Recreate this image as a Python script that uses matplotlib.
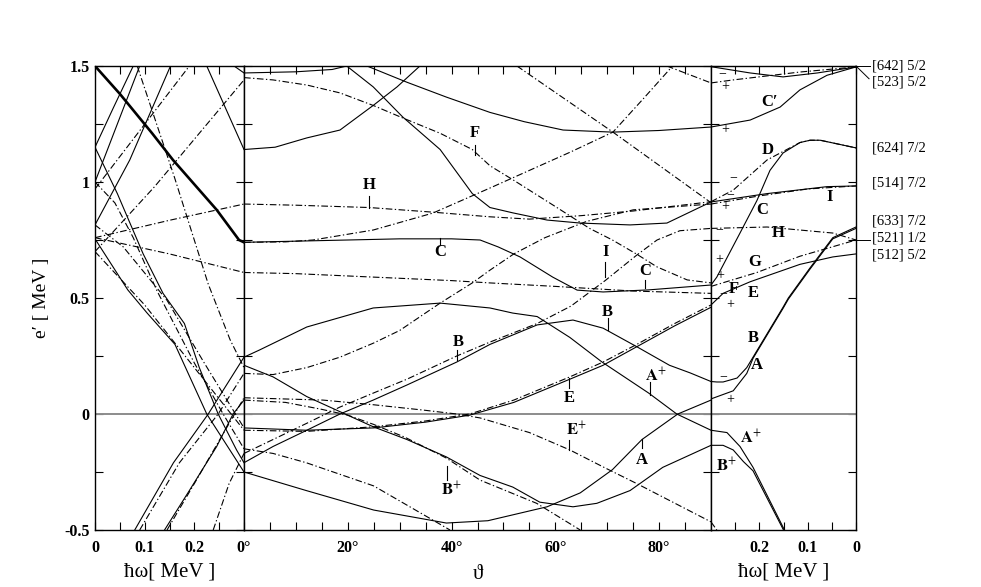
import matplotlib
matplotlib.use("Agg")
import matplotlib.pyplot as plt
import matplotlib.transforms as mtrans

plt.rcParams['font.family'] = ['Liberation Serif', 'DejaVu Serif']
plt.rcParams['mathtext.fontset'] = 'stix'

# ---------------- left panel: theta = 0, hw from 0 to 0.3 MeV ----------------
left_thick = [(0, 1.5), (0.05, 1.38), (0.115, 1.21), (0.157, 1.095), (0.245, 0.88), (0.29, 0.75), (0.3, 0.74)]
left_solid = [
    [(0.225, 1.5), (0.3, 1.14)],
    [(0.28, 1.5), (0.3, 1.47)],
    [(0, 1.15), (0.037, 1.32), (0.077, 1.5)],
    [(0, 1.15), (0.045, 0.95), (0.065, 0.85), (0.097, 0.69), (0.137, 0.52), (0.18, 0.39),
     (0.21, 0.2), (0.248, 0.0), (0.285, -0.155), (0.3, -0.21)],
    [(0, 1.0), (0.09, 1.5)],
    [(0, 0.815), (0.07, 1.095), (0.152, 1.5)],
    [(0, 0.755), (0.066, 0.535), (0.105, 0.435), (0.161, 0.3), (0.225, 0.0), (0.3, -0.25)],
    [(0.08, -0.5), (0.158, -0.21), (0.228, 0.0), (0.3, 0.245)],
    [(0.14, -0.5), (0.19, -0.33), (0.245, -0.14), (0.278, 0.0), (0.3, 0.06)],
]
left_dashdot = [
    [(0, 0.76), (0.15, 0.835), (0.3, 0.905)],
    [(0, 0.76), (0.15, 0.69), (0.3, 0.61)],
    [(0, 0.70), (0.12, 0.98), (0.3, 1.44)],
    [(0.085, 1.5), (0.16, 1.02), (0.228, 0.56), (0.272, 0.32), (0.3, 0.2)],
    [(0.09, -0.5), (0.17, -0.21), (0.248, 0.0), (0.3, 0.175)],
    [(0.145, -0.5), (0.2, -0.3), (0.3, 0.07)],
    [(0.238, -0.5), (0.27, -0.3), (0.3, -0.17)],
    [(0, 1.0), (0.04, 0.91), (0.077, 0.76), (0.125, 0.53), (0.2, 0.22), (0.258, 0.0), (0.3, -0.15)],
    [(0, 0.815), (0.057, 0.72), (0.09, 0.634), (0.145, 0.49), (0.22, 0.22), (0.3, -0.06)],
    [(0, 0.70), (0.1, 0.47), (0.2, 0.2), (0.3, -0.07)],
    [(0, 0.97), (0.19, 1.5)],
]

# ---------------- middle panel: hw = 0.3 MeV, tilt angle 0..90 deg ----------------
mid_solid = [
    [(0, 1.47), (10, 1.475), (17, 1.485), (19.8, 1.5), (24.9, 1.41), (30.6, 1.28), (37.8, 1.14),
     (44, 0.95), (47.4, 0.89), (51.8, 0.867), (58.4, 0.836), (64.8, 0.823), (74.4, 0.815),
     (81.5, 0.823), (90, 0.914)],
    [(23.7, 1.5), (31.4, 1.43), (39, 1.366), (47.4, 1.30), (54, 1.26), (61.5, 1.224), (71, 1.215),
     (80, 1.222), (90, 1.237)],
    [(0, 1.14), (6, 1.15), (12.1, 1.19), (18.5, 1.224), (24.9, 1.33), (29.5, 1.41), (33.9, 1.5)],
    [(0, 0.74), (10, 0.745), (20, 0.75), (30, 0.755), (40, 0.755), (45.5, 0.75), (49, 0.72),
     (53.2, 0.677), (59.5, 0.59), (64.2, 0.534), (69.2, 0.526), (78, 0.535), (90, 0.556)],
    [(0, 0.245), (3, 0.276), (12.1, 0.375), (24.9, 0.457), (37.8, 0.478), (47.4, 0.457),
     (51.8, 0.435), (56.5, 0.42), (62.8, 0.33), (69, 0.224), (78, 0.09), (83.4, 0.0), (90, -0.07)],
    [(0, -0.21), (5.6, -0.14), (12.1, -0.07), (18.5, 0.0), (24.9, 0.06), (31.4, 0.125), (41, 0.224),
     (47.4, 0.30), (56.5, 0.384), (63.4, 0.405), (69.2, 0.37), (75.7, 0.29), (82, 0.21),
     (86, 0.177), (90, 0.14)],
    [(0, 0.21), (5.6, 0.16), (12.1, 0.075), (18.5, 0.01), (24.9, -0.055), (31.4, -0.11), (39, -0.185),
     (45.5, -0.265), (51.8, -0.315), (57, -0.38), (63.4, -0.4), (68, -0.385), (74.4, -0.33),
     (80.7, -0.23), (90, -0.135)],
    [(0, -0.25), (12, -0.33), (25, -0.414), (39, -0.47), (47, -0.46), (58.4, -0.4), (64.8, -0.34),
     (71, -0.24), (76.7, -0.11), (83.6, 0.0), (90, 0.06)],
    [(0, -0.06), (12, -0.07), (25, -0.06), (35, -0.035), (43.5, -0.005), (52, 0.05), (62.8, 0.15),
     (69.2, 0.21), (75.7, 0.29), (83, 0.38), (90, 0.46)],
]
mid_dashdot = [
    [(0, 1.45), (5.6, 1.44), (12.1, 1.418), (18.5, 1.384), (24.9, 1.33), (30.6, 1.276), (37.8, 1.21),
     (44, 1.14), (47.4, 1.07), (51.8, 1.01), (60.3, 0.89), (66.6, 0.80), (71, 0.75), (75.6, 0.69),
     (79.6, 0.634), (85.4, 0.578), (90, 0.565)],
    [(0, 0.905), (10, 0.9), (24.1, 0.89), (36.4, 0.87), (47.4, 0.85), (55, 0.84), (65, 0.855),
     (75, 0.875), (90, 0.915)],
    [(52.6, 1.5), (71.1, 1.215), (89.8, 0.914)],
    [(0, 0.74), (8, 0.742), (13.3, 0.75), (24.9, 0.793), (36.4, 0.866), (47.4, 0.974), (55, 1.05),
     (63, 1.13), (71.1, 1.215), (77, 1.36), (82.6, 1.5)],
    [(0, 0.61), (10, 0.605), (25, 0.59), (40, 0.575), (47.4, 0.565), (60, 0.55), (75, 0.53), (90, 0.52)],
    [(0, 0.175), (5.6, 0.17), (12.1, 0.2), (18.5, 0.245), (24.9, 0.305), (30, 0.36), (37.8, 0.478),
     (44, 0.565), (47.4, 0.62), (52, 0.69), (58, 0.76), (66, 0.83), (75, 0.88), (90, 0.905)],
    [(0, -0.17), (5.6, -0.11), (12.1, -0.04), (18.5, 0.03), (24.9, 0.09), (31.4, 0.15), (41, 0.25),
     (47.4, 0.31), (56.5, 0.39), (63, 0.465), (69.6, 0.575), (75.7, 0.685), (79.6, 0.75),
     (84, 0.79), (90, 0.80)],
    [(0, -0.07), (12, -0.075), (25, -0.055), (35, -0.03), (43.5, 0.0), (52, 0.06), (62.8, 0.16),
     (69.2, 0.224), (75.7, 0.30), (83, 0.39), (90, 0.47)],
    [(0, 0.07), (15.2, 0.06), (24.9, 0.04), (34.5, 0.017), (41, 0.0), (45.5, -0.017), (55, -0.08),
     (62.8, -0.155), (69.2, -0.228), (75.7, -0.3), (90, -0.465)],
    [(0, 0.06), (8, 0.05), (15, 0.02), (20, -0.005), (25, -0.045), (31, -0.1), (39, -0.19),
     (45.5, -0.285), (56.4, -0.385), (64.8, -0.5)],
    [(0, -0.15), (5.6, -0.17), (12, -0.21), (25, -0.31), (39.7, -0.5)],
    [(81.5, 1.5), (90, 1.427)],
]

# ---------------- right panel: theta = 90 deg, hw from 0.3 down to 0 ----------------
right_solid = [
    [(0.3, 0.14), (0.288, 0.138), (0.275, 0.138), (0.246, 0.155), (0.226, 0.2), (0.213, 0.245),
     (0.151, 0.46), (0.14, 0.5), (0.095, 0.63), (0.048, 0.76), (0.0, 0.806)],
    [(0.3, 0.065), (0.254, 0.10), (0.226, 0.175), (0.213, 0.24), (0.151, 0.455), (0.14, 0.495),
     (0.095, 0.625), (0.048, 0.755), (0.0, 0.80)],
    [(0.3, -0.07), (0.267, -0.08), (0.24, -0.14), (0.213, -0.23), (0.148, -0.5)],
    [(0.3, -0.135), (0.275, -0.135), (0.254, -0.155), (0.233, -0.205), (0.213, -0.245), (0.15, -0.5)],
    [(0.3, 0.47), (0.275, 0.52), (0.219, 0.57), (0.116, 0.645), (0.048, 0.677), (0, 0.69)],
    [(0.3, 0.556), (0.288, 0.59), (0.24, 0.78), (0.205, 0.92), (0.178, 1.05), (0.151, 1.125),
     (0.116, 1.17), (0.095, 1.18), (0.074, 1.18), (0, 1.147)],
    [(0.3, 0.914), (0.184, 0.95), (0.06, 0.98), (0, 0.983)],
    [(0.3, 1.237), (0.219, 1.267), (0.157, 1.323), (0.116, 1.397), (0.06, 1.46), (0, 1.496)],
    [(0.3, 1.497), (0.219, 1.47), (0.151, 1.453), (0.08, 1.47), (0, 1.496)],
]
right_dashdot = [
    [(0.3, 0.55), (0.205, 0.61), (0.116, 0.68), (0, 0.75)],
    [(0.3, 0.80), (0.184, 0.806), (0.048, 0.78), (0, 0.75)],
    [(0.3, 0.915), (0.254, 0.965), (0.184, 1.095), (0.116, 1.17), (0.095, 1.18), (0.074, 1.18), (0, 1.147)],
    [(0.3, 0.905), (0.2, 0.94), (0.1, 0.97), (0, 0.983)],
    [(0.3, 1.427), (0.254, 1.44), (0.116, 1.474), (0, 1.496)],
    [(0.3, -0.465), (0.288, -0.5)],
]

# curve labels (text, x, y) and the small marker ticks (x, y0, y1)
mid_labels = ["F", "H", "C", "I", "C", "B", "B", "E", r"$\mathbf{A}^{+}$", r"$\mathbf{E}^{+}$",
              "A", r"$\mathbf{B}^{+}$"]
mid_label_x = [44.5, 24.1, 37.8, 69.6, 77.3, 41.2, 70.1, 62.6, 79.4, 64.0, 76.7, 40.0]
mid_label_y = [1.21, 0.985, 0.70, 0.70, 0.615, 0.31, 0.44, 0.07, 0.165, -0.07, -0.20, -0.33]
mid_tick_x = [44.6, 24.1, 37.8, 69.6, 77.2, 41.1, 70.1, 62.6, 78.2, 62.6, 76.7, 39.1]
mid_tick_y0 = [1.16, 0.94, 0.76, 0.655, 0.578, 0.276, 0.414, 0.155, 0.138, -0.112, -0.108, -0.224]
mid_tick_y1 = [1.115, 0.888, 0.728, 0.59, 0.543, 0.233, 0.362, 0.112, 0.082, -0.155, -0.147, -0.284]

right_labels = ["C\u2032", "D", "I", "C", "H", "G", "F", "E", "B", "A", r"$\mathbf{A}^{+}$", r"$\mathbf{B}^{+}$"]
right_label_x = [0.178, 0.182, 0.054, 0.195, 0.161, 0.209, 0.252, 0.213, 0.213, 0.205, 0.218, 0.268]
right_label_y = [1.345, 1.138, 0.935, 0.88, 0.78, 0.655, 0.537, 0.522, 0.328, 0.21, -0.105, -0.225]

sign_text = ["\u2212", "+", "+", "\u2212", "\u2212", "+", "\u2212", "+", "+", "\u2212", "+", "\u2212", "+"]
sign_x = [0.277, 0.271, 0.271, 0.254, 0.26, 0.271, 0.283, 0.283, 0.281, 0.275, 0.261, 0.275, 0.261]
sign_y = [1.465, 1.41, 1.224, 1.017, 0.945, 0.893, 0.795, 0.665, 0.598, 0.52, 0.47, 0.16, 0.06]

nilsson_labels = ["[642] 5/2", "[523] 5/2", "[624] 7/2", "[514] 7/2", "[633] 7/2", "[521] 1/2", "[512] 5/2"]
nilsson_y = [1.5, 1.43, 1.147, 0.995, 0.83, 0.76, 0.685]

DD = (0, (6, 2.2, 1.2, 2.2))


def draw(ax, curves, style, lw=0.8):
    for c in curves:
        xs = [p[0] for p in c]
        ys = [p[1] for p in c]
        ax.plot(xs, ys, color="black", lw=lw, linestyle=style, zorder=3)


fig = plt.figure(figsize=(9.81, 5.87), dpi=100)
b, h = 57 / 587, 464 / 587
ax1 = fig.add_axes([95 / 981, b, 149 / 981, h])
ax2 = fig.add_axes([244 / 981, b, 467 / 981, h])
ax3 = fig.add_axes([711 / 981, b, 145 / 981, h])

for ax in (ax1, ax2, ax3):
    ax.set_ylim(-0.5, 1.5)
    ax.axhline(0, color="0.55", lw=1.4, zorder=2)
    ax.set_yticks([-0.5, 0, 0.5, 1, 1.5])
    ax.set_yticks([-0.25, 0.25, 0.75, 1.25], minor=True)
    ax.tick_params(which="both", direction="in", top=True, right=True, length=6, width=0.8,
                   labelsize=11.5, pad=7)
    for s in ax.spines.values():
        s.set_linewidth(1.0)

ax1.set_xlim(0, 0.3)
ax2.set_xlim(0, 90)
ax3.set_xlim(0.3, 0)

ax1.set_yticklabels(["-0.5", "0", "0.5", "1", "1.5"], fontweight="bold")
ax1.tick_params(axis="y", pad=4)
ax2.set_yticklabels([])
ax3.set_yticklabels([])

ax1.set_xticks([0, 0.1, 0.2])
ax1.set_xticks([0.05, 0.15, 0.25], minor=True)
ax1.set_xticklabels(["0", "0.1", "0.2"], fontweight="bold")
ax2.set_xticks([0, 20, 40, 60, 80])
ax2.set_xticks([5, 10, 15, 25, 30, 35, 45, 50, 55, 65, 70, 75, 85], minor=True)
ax2.set_xticklabels(["0\u00b0", "20\u00b0", "40\u00b0", "60\u00b0", "80\u00b0"], fontweight="bold")
ax3.set_xticks([0.2, 0.1, 0])
ax3.set_xticks([0.25, 0.15, 0.05], minor=True)
ax3.set_xticklabels(["0.2", "0.1", "0"], fontweight="bold")

# curves
ax1.plot([p[0] for p in left_thick], [p[1] for p in left_thick], color="black", lw=1.9, zorder=3)
draw(ax1, left_solid, "-")
draw(ax1, left_dashdot, DD)
draw(ax2, mid_solid, "-")
draw(ax2, mid_dashdot, DD)
draw(ax3, right_solid, "-")
draw(ax3, right_dashdot, DD)

# labels in the middle panel
for t, x, y in zip(mid_labels, mid_label_x, mid_label_y):
    ax2.text(x, y, t, ha="center", va="center", fontsize=12, fontweight="bold", zorder=4)
for x, y0, y1 in zip(mid_tick_x, mid_tick_y0, mid_tick_y1):
    ax2.plot([x, x], [y0, y1], color="black", lw=0.8, zorder=4)

for t, x, y in zip(right_labels, right_label_x, right_label_y):
    ax3.text(x, y, t, ha="center", va="center", fontsize=12, fontweight="bold", zorder=4)
for t, x, y in zip(sign_text, sign_x, sign_y):
    ax3.text(x, y, t, ha="center", va="center", fontsize=10, zorder=4)

# Nilsson labels outside the right panel
tr = mtrans.blended_transform_factory(ax3.transAxes, ax3.transData)
for t, y in zip(nilsson_labels, nilsson_y):
    ax3.text(1.11, y, t, transform=tr, ha="left", va="center", fontsize=10.5, clip_on=False)
ax3.plot([1.0, 1.1], [1.5, 1.5], transform=tr, color="black", lw=0.7, clip_on=False)
ax3.plot([1.0, 1.09], [1.5, 1.445], transform=tr, color="black", lw=0.7, clip_on=False)
ax3.plot([1.0, 1.1], [0.752, 0.752], transform=tr, color="black", lw=0.7, clip_on=False)

ax1.set_xlabel("\u0127\u03c9[ MeV ]", fontsize=15, labelpad=5)
ax3.set_xlabel("\u0127\u03c9[ MeV ]", fontsize=15, labelpad=5)
ax2.set_xlabel("\u03d1", fontsize=15, labelpad=7)
ax1.set_ylabel("e\u2032 [ MeV ]", fontsize=14, labelpad=10)

fig.savefig("out.png", dpi=100)
